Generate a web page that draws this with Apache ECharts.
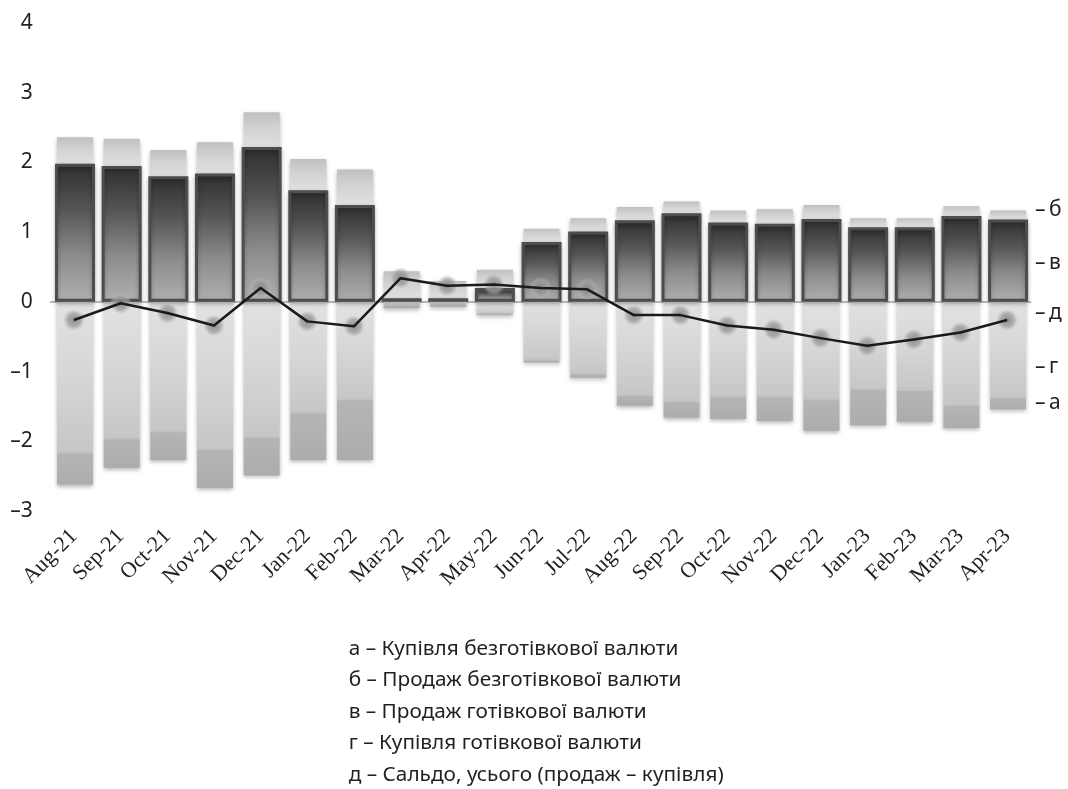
<!DOCTYPE html>
<html>
<head>
<meta charset="utf-8">
<script src="https://cdn.jsdelivr.net/npm/echarts@6/dist/echarts.min.js"></script>
<style>
  html, body { margin: 0; padding: 0; background: #ffffff; }
  #chart { width: 1068px; height: 789px; }
</style>
</head>
<body>
<div id="chart"></div>
<script>
// Monthly household FX operations, UAH bn equivalent
const months = ['Aug-21', 'Sep-21', 'Oct-21', 'Nov-21', 'Dec-21', 'Jan-22', 'Feb-22', 'Mar-22', 'Apr-22', 'May-22',
  'Jun-22', 'Jul-22', 'Aug-22', 'Sep-22', 'Oct-22', 'Nov-22', 'Dec-22', 'Jan-23', 'Feb-23', 'Mar-23', 'Apr-23'];

// в – sale of cash currency
const cashSale = [1.98, 1.95, 1.80, 1.84, 2.22, 1.60, 1.39, 0.05, 0.05, 0.20,
  0.86, 1.01, 1.17, 1.27, 1.14, 1.12, 1.19, 1.07, 1.07, 1.23, 1.18];
// б – sale of non-cash currency
const noncashSale = [0.38, 0.39, 0.38, 0.45, 0.50, 0.45, 0.51, 0.39, 0.25, 0.26,
  0.19, 0.19, 0.19, 0.17, 0.17, 0.21, 0.20, 0.13, 0.13, 0.14, 0.13];
// г – purchase of cash currency
const cashPurchase = [-2.17, -1.97, -1.87, -2.13, -1.95, -1.60, -1.41, -0.06, -0.05, -0.17,
  -0.84, -1.04, -1.35, -1.44, -1.37, -1.37, -1.41, -1.26, -1.28, -1.49, -1.39];
// а – purchase of non-cash currency
const noncashPurchase = [-0.45, -0.41, -0.40, -0.54, -0.54, -0.67, -0.86, -0.03, -0.02, -0.02,
  -0.03, -0.05, -0.14, -0.22, -0.31, -0.34, -0.44, -0.51, -0.44, -0.32, -0.15];
// д – net balance (sale – purchase)
const balance = [-0.26, -0.02, -0.16, -0.34, 0.20, -0.28, -0.35, 0.34, 0.23, 0.25,
  0.20, 0.18, -0.19, -0.19, -0.34, -0.40, -0.52, -0.63, -0.54, -0.44, -0.26];

const yTicks = { min: -3, max: 4, step: 1 };

const sideMarks = ['б', 'в', 'д', 'г', 'а'];
const legendLines = [
  'а – Купівля безготівкової валюти',
  'б – Продаж безготівкової валюти',
  'в – Продаж готівкової валюти',
  'г – Купівля готівкової валюти',
  'д – Сальдо, усього (продаж – купівля)'
];

const sansFont = '"Noto Sans", "Open Sans", sans-serif';
const textColor = '#231f20';

// Legend block: size the font so the phrase "тівкової валюти" spans ~159px,
// then align the block so the lines end where the layout wants them.
const measureCtx = document.createElement('canvas').getContext('2d');
function textWidth(str, size) {
  measureCtx.font = size + 'px ' + sansFont;
  return measureCtx.measureText(str).width;
}
const legendSize = Math.round(100 * 159 / textWidth('тівкової валюти', 100) * 10) / 10;
const legendEnds = [677, 682, 647, 639, 727];
const legendLeft = legendLines.reduce((s, t, i) => s + legendEnds[i] - textWidth(t, legendSize), 0) / legendLines.length;
const legendY = [649, 680.5, 712, 743.5, 775];

const chart = echarts.init(document.getElementById('chart'), null, { renderer: 'canvas' });

const vGrad = (stops) => new echarts.graphic.LinearGradient(0, 0, 0, 1,
  stops.map((c, i) => ({ offset: i / (stops.length - 1), color: c })));

const barShadow = { shadowBlur: 4, shadowColor: 'rgba(0,0,0,0.28)', shadowOffsetY: 2 };

// right-hand series markers beside the last column
const sideY = [210, 263, 313, 367, 403];
const sideGraphics = sideMarks.map((m, i) => ({
  type: 'text', x: 1035, y: sideY[i],
  style: { text: '–\u2009' + m, font: '21px ' + sansFont, fill: textColor, verticalAlign: 'middle', align: 'left' }
}));

const legendGraphics = legendLines.map((t, i) => ({
  type: 'text', x: legendLeft, y: legendY[i],
  style: { text: t, font: legendSize + 'px ' + sansFont, fill: textColor, verticalAlign: 'middle', align: 'left' }
}));

const option = {
  backgroundColor: '#ffffff',
  animation: false,
  grid: { left: 50.7, right: 37.6, top: 23, bottom: 278, containLabel: false },
  xAxis: {
    type: 'category',
    data: months,
    axisTick: { show: false },
    axisLine: { onZero: true, lineStyle: { color: '#bdbdbd', width: 2 } },
    axisLabel: {
      interval: 0, rotate: 45, margin: 22,
      fontFamily: '"Liberation Serif", "Times New Roman", serif',
      fontSize: 22, color: '#231f20'
    },
    z: 1
  },
  yAxis: {
    type: 'value',
    min: yTicks.min, max: yTicks.max, interval: yTicks.step,
    splitLine: { show: false },
    axisLine: { show: false },
    axisTick: { show: false },
    axisLabel: {
      margin: 18, fontFamily: sansFont, fontSize: 21, color: textColor,
      formatter: (v) => (v < 0 ? '–' + Math.abs(v) : String(v))
    }
  },
  series: [
    {
      name: 'в', type: 'bar', stack: 'wide', barWidth: 40, barGap: '-95%',
      data: cashSale, z: 3,
      itemStyle: Object.assign({
        color: vGrad(['#2e2e2e', '#565656', '#8c8c8c', '#b0b0b0']),
        borderColor: '#4d4d4d', borderWidth: 3
      }, barShadow)
    },
    {
      name: 'base', type: 'bar', stack: 'narrow', barWidth: 36,
      data: cashSale, silent: true,
      itemStyle: { color: 'rgba(0,0,0,0)' }
    },
    {
      name: 'б', type: 'bar', stack: 'narrow', barWidth: 36,
      data: noncashSale,
      itemStyle: Object.assign({ color: vGrad(['#c0c0c0', '#d4d4d4', '#dfdfdf']) }, barShadow)
    },
    {
      name: 'г', type: 'bar', stack: 'narrow', barWidth: 36,
      data: cashPurchase,
      itemStyle: Object.assign({ color: vGrad(['#e2e2e2', '#d6d6d6', '#c6c6c6']) }, barShadow)
    },
    {
      name: 'а', type: 'bar', stack: 'narrow', barWidth: 36,
      data: noncashPurchase,
      itemStyle: Object.assign({ color: vGrad(['#b5b5b5', '#acacac']) }, barShadow)
    },
    {
      name: 'д-points', type: 'scatter', data: balance, z: 4,
      symbol: 'circle', symbolSize: 22,
      itemStyle: {
        color: new echarts.graphic.RadialGradient(0.5, 0.5, 0.5, [
          { offset: 0, color: '#6a6a6a' },
          { offset: 0.22, color: '#8a8a8a' },
          { offset: 0.6, color: 'rgba(158,158,158,0.95)' },
          { offset: 0.8, color: 'rgba(175,175,175,0.55)' },
          { offset: 1, color: 'rgba(200,200,200,0)' }
        ])
      }
    },
    {
      name: 'д', type: 'line', data: balance, z: 5,
      showSymbol: false, symbol: 'none',
      lineStyle: { color: '#1a1a1a', width: 2.5 }
    }
  ],
  graphic: sideGraphics.concat(legendGraphics)
};

chart.setOption(option);
</script>
</body>
</html>
